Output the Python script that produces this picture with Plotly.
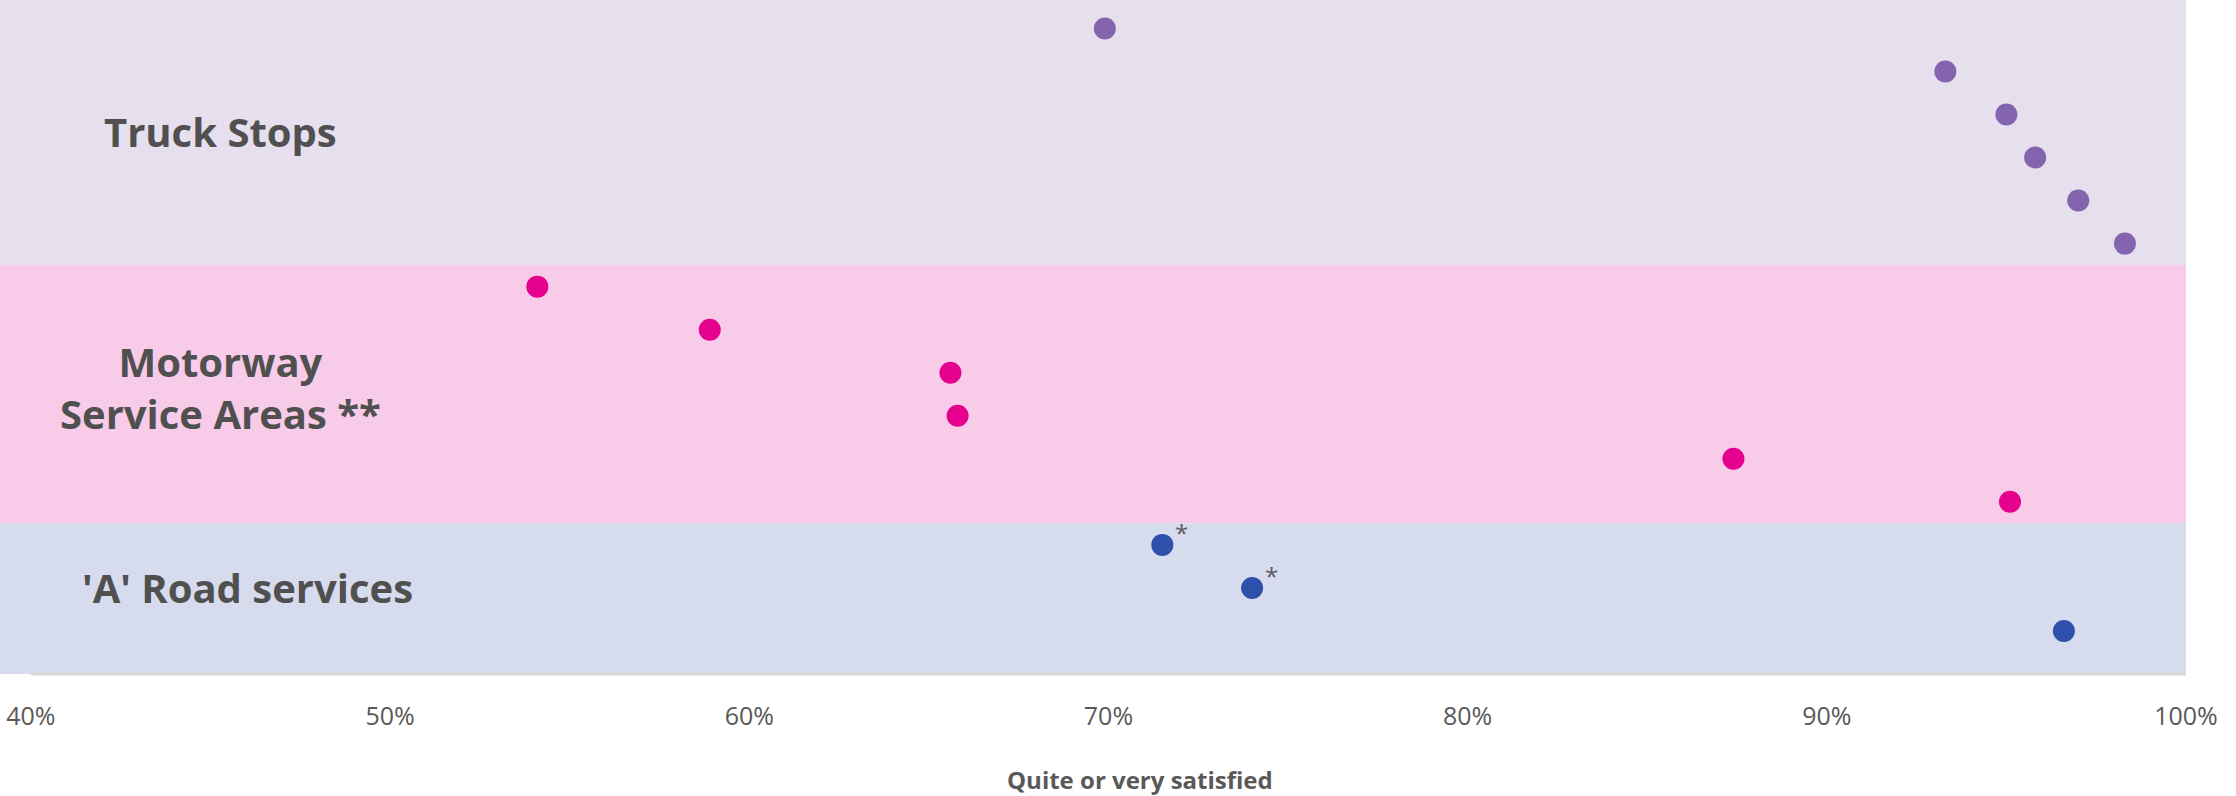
import plotly.graph_objects as go

# Share of respondents "quite or very satisfied" (%), one dot per site
truck_stops = [69.9, 93.3, 95.0, 95.8, 97.0, 98.3]
motorway_services = [54.1, 58.9, 65.6, 65.8, 87.4, 95.1]
a_road_services = [71.5, 74.0, 96.6]
a_road_notes = ["*", "*", ""]

group_labels = ["Truck Stops", "Motorway<br>Service Areas **", "'A' Road services"]
tick_values = [40, 50, 60, 70, 80, 90, 100]
tick_labels = ["40%", "50%", "60%", "70%", "80%", "90%", "100%"]

groups = [
    (truck_stops, "#8464AE", "#E6DFEE"),
    (motorway_services, "#E6008E", "#F8CCE8"),
    (a_road_services, "#2E4FAA", "#D6DBED"),
]

TEXT_GREY = "#595959"
LABEL_GREY = "#505050"
Y_TOP, Y_BOTTOM = 0.34, 16.0

fig = go.Figure()
shapes = []
annotations = []

row = 1
band_top = Y_TOP
label_x = [0.101, 0.101, 0.113]
label_shift = [-0.1, -0.15, 0.0]
for i, ((values, colour, band), label, lx, dy) in enumerate(
        zip(groups, group_labels, label_x, label_shift)):
    rows = list(range(row, row + len(values)))
    band_bottom = Y_BOTTOM if i == len(groups) - 1 else rows[-1] + 0.5
    shapes.append(dict(type="rect", xref="paper", yref="y", x0=0, x1=1,
                       y0=band_top, y1=band_bottom, fillcolor=band,
                       line=dict(width=0), layer="below"))
    fig.add_trace(go.Scatter(
        x=values, y=rows, mode="markers",
        marker=dict(size=22, color=colour, line=dict(width=0)),
        showlegend=False, hoverinfo="x",
    ))
    annotations.append(dict(
        x=lx, xref="paper", y=(rows[0] + rows[-1]) / 2 + dy, yref="y",
        text=f"<b>{label}</b>", showarrow=False, xanchor="center",
        yanchor="middle", font=dict(family="Open Sans", size=40, color=LABEL_GREY),
    ))
    band_top = band_bottom
    row += len(values)

# Footnote markers beside the flagged 'A' road sites
a_rows = list(range(row - len(a_road_services), row))
for v, r, note in zip(a_road_services, a_rows, a_road_notes):
    if note:
        annotations.append(dict(
            x=v, y=r, xref="x", yref="y", text=note, showarrow=False,
            xshift=19, yshift=12, font=dict(family="Open Sans", size=24, color=TEXT_GREY),
        ))

# Axis baseline from 40% to 100%
shapes.append(dict(type="line", xref="x", yref="paper", x0=40, x1=100.2,
                   y0=0, y1=0, line=dict(color="#D9D9D9", width=3)))

annotations.append(dict(
    x=0.5215, y=-0.157, xref="paper", yref="paper",
    text="<b>Quite or very satisfied</b>", showarrow=False,
    xanchor="center", yanchor="middle",
    font=dict(family="Open Sans", size=24, color=TEXT_GREY),
))

fig.update_layout(
    width=2236, height=796,
    margin=dict(l=0, r=50, t=0, b=122),
    paper_bgcolor="white", plot_bgcolor="white",
    shapes=shapes, annotations=annotations,
    xaxis=dict(range=[39.14, 100], tickvals=tick_values, ticktext=tick_labels,
               showgrid=False, zeroline=False, showline=False,
               ticks="outside", ticklen=20, tickcolor="rgba(0,0,0,0)",
               tickfont=dict(family="Open Sans", size=25, color=TEXT_GREY)),
    yaxis=dict(range=[Y_BOTTOM, Y_TOP], visible=False, showgrid=False, zeroline=False),
)

fig.write_html("out.html")
